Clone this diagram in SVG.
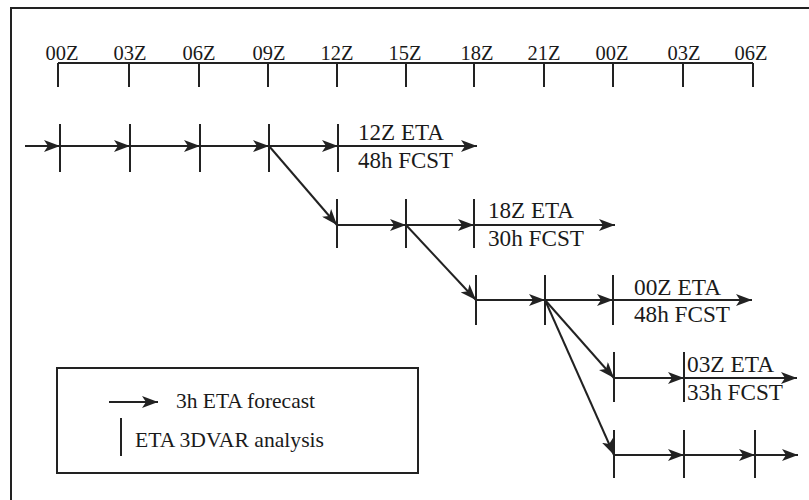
<svg xmlns="http://www.w3.org/2000/svg" width="809" height="500" viewBox="0 0 809 500">
<style>
.ln{stroke:#222;stroke-width:2;fill:none}
.ar{stroke:#222;stroke-width:2;fill:none;marker-end:url(#ah)}
.t{font-family:"Liberation Serif","DejaVu Serif","Times New Roman",serif;fill:#1a1a1a}
.ax{font-size:21px;text-anchor:middle}
.rl{font-size:23px}
.lg{font-size:21px}
</style>
<defs>
<marker id="ah" viewBox="0 0 16 12" refX="16" refY="6" markerWidth="16" markerHeight="12" orient="auto" markerUnits="userSpaceOnUse">
<path d="M0,0 L16,6 L0,12 L4,6 z" fill="#222"/>
</marker>
</defs>
<rect x="0" y="0" width="809" height="500" fill="#fff"/>
<rect x="11" y="8" width="810" height="510" class="ln"/>

<g id="axis">
<path class="ln" d="M58,63 H753 M58,63 V87 M129,63 V87 M199,63 V87 M268,63 V87 M337,63 V87 M406,63 V87 M474,63 V87 M544,63 V87 M613,63 V87 M683,63 V87 M753,63 V87"/>
<g class="t ax">
<text x="62" y="60" textLength="33" lengthAdjust="spacingAndGlyphs">00Z</text>
<text x="130" y="60" textLength="33" lengthAdjust="spacingAndGlyphs">03Z</text>
<text x="199" y="60" textLength="33" lengthAdjust="spacingAndGlyphs">06Z</text>
<text x="269" y="60" textLength="33" lengthAdjust="spacingAndGlyphs">09Z</text>
<text x="337" y="60" textLength="33" lengthAdjust="spacingAndGlyphs">12Z</text>
<text x="405" y="60" textLength="33" lengthAdjust="spacingAndGlyphs">15Z</text>
<text x="477" y="60" textLength="33" lengthAdjust="spacingAndGlyphs">18Z</text>
<text x="544" y="60" textLength="33" lengthAdjust="spacingAndGlyphs">21Z</text>
<text x="612" y="60" textLength="33" lengthAdjust="spacingAndGlyphs">00Z</text>
<text x="684" y="60" textLength="33" lengthAdjust="spacingAndGlyphs">03Z</text>
<text x="751" y="60" textLength="33" lengthAdjust="spacingAndGlyphs">06Z</text>
</g>
</g>

<g id="row1">
<path class="ln" d="M60,124 V172 M130,124 V172 M200,124 V172 M269,124 V172 M338,124 V172"/>
<text class="t rl" x="358" y="140" textLength="86" lengthAdjust="spacingAndGlyphs">12Z ETA</text>
<text class="t rl" x="358" y="168" textLength="95" lengthAdjust="spacingAndGlyphs">48h FCST</text>
</g>
<g id="row2">
<path class="ln" d="M337,199 V248 M406,199 V248 M474,199 V248"/>
<text class="t rl" x="488" y="218" textLength="86" lengthAdjust="spacingAndGlyphs">18Z ETA</text>
<text class="t rl" x="488" y="246" textLength="96" lengthAdjust="spacingAndGlyphs">30h FCST</text>
</g>
<g id="row3">
<path class="ln" d="M476,275 V325 M545,275 V325 M613,275 V325"/>
<text class="t rl" x="634" y="295" textLength="87" lengthAdjust="spacingAndGlyphs">00Z ETA</text>
<text class="t rl" x="634" y="322" textLength="96" lengthAdjust="spacingAndGlyphs">48h FCST</text>
</g>
<g id="row4">
<path class="ln" d="M614,352 V402 M684,352 V402"/>
<text class="t rl" x="687" y="372" textLength="87" lengthAdjust="spacingAndGlyphs">03Z ETA</text>
<text class="t rl" x="687" y="400" textLength="96" lengthAdjust="spacingAndGlyphs">33h FCST</text>
</g>
<g id="row5">
<path class="ln" d="M614,430 V478 M684,430 V478 M755,430 V478"/>
</g>

<g id="connectors">
<line class="ar" x1="25" y1="146" x2="60" y2="146"/>
<line class="ar" x1="60" y1="146" x2="130" y2="146"/>
<line class="ar" x1="130" y1="146" x2="200" y2="146"/>
<line class="ar" x1="200" y1="146" x2="269" y2="146"/>
<line class="ar" x1="269" y1="146" x2="338" y2="146"/>
<line class="ar" x1="338" y1="146" x2="477" y2="146"/>
<line class="ar" x1="269" y1="146" x2="337" y2="225"/>
<line class="ar" x1="337" y1="225" x2="406" y2="225"/>
<line class="ar" x1="406" y1="225" x2="474" y2="225"/>
<line class="ar" x1="474" y1="225" x2="615" y2="225"/>
<line class="ar" x1="406" y1="225" x2="476" y2="300"/>
<line class="ar" x1="476" y1="300" x2="545" y2="300"/>
<line class="ar" x1="545" y1="300" x2="613" y2="300"/>
<line class="ar" x1="613" y1="300" x2="752" y2="300"/>
<line class="ar" x1="545" y1="300" x2="614" y2="378"/>
<line class="ar" x1="545" y1="300" x2="614" y2="455"/>
<line class="ar" x1="614" y1="378" x2="684" y2="378"/>
<line class="ar" x1="684" y1="378" x2="797" y2="378"/>
<line class="ar" x1="614" y1="455" x2="684" y2="455"/>
<line class="ar" x1="684" y1="455" x2="755" y2="455"/>
<line class="ar" x1="755" y1="455" x2="798" y2="455"/>
</g>

<g id="legend">
<rect x="57" y="368" width="361" height="105" class="ln"/>
<line class="ar" x1="109" y1="402" x2="158" y2="402"/>
<text class="t lg" x="176" y="408" textLength="139" lengthAdjust="spacingAndGlyphs">3h ETA forecast</text>
<path class="ln" d="M121,418 V456"/>
<text class="t lg" x="135" y="447" textLength="189" lengthAdjust="spacingAndGlyphs">ETA 3DVAR analysis</text>
</g>
</svg>
